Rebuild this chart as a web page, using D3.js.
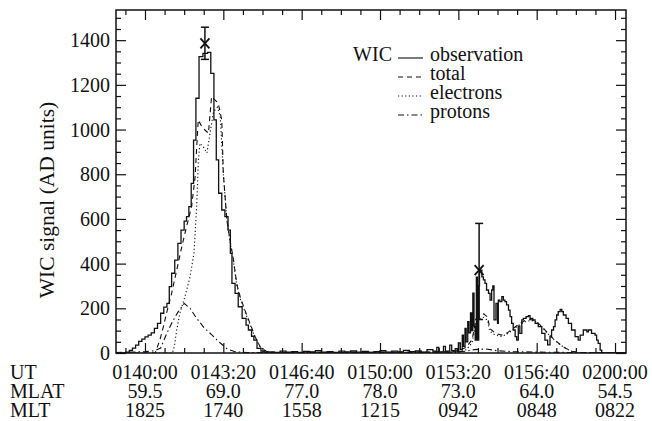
<!DOCTYPE html>
<html><head><meta charset="utf-8">
<script src="https://cdn.jsdelivr.net/npm/d3@7"></script>
<style>
body{margin:0;background:#fff}
svg{display:block}
text{font-family:"Liberation Serif","DejaVu Serif",serif;fill:#111}
</style>
</head><body>
<svg id="c" width="652" height="421"></svg>
<script>
// ---------------- data ----------------
// time = seconds after 01:40:00 UT
const utTicks = [0, 200, 400, 600, 800, 1000, 1200];
const utLabels = ["0140:00", "0143:20", "0146:40", "0150:00", "0153:20", "0156:40", "0200:00"];
const mlatLabels = ["59.5", "69.0", "77.0", "78.0", "73.0", "64.0", "54.5"];
const mltLabels = ["1825", "1740", "1558", "1215", "0942", "0848", "0822"];
const yTicks = [0, 200, 400, 600, 800, 1000, 1200, 1400];
const rowLabels = ["UT", "MLAT", "MLT"];

const observation = [
  [-74,0],[-48,4],[-40,12],[-32,22],[-24,35],[-16,52],[-8,62],[0,72],[8,80],[16,90],[24,110],[32,133],
  [40,178],[48,205],[56,222],[62,297],[68,357],[76,416],[84,491],[92,550],[100,590],[106,610],[112,655],
  [118,759],[124,953],[130,1140],[138,1326],[148,1341],[160,1345],[168,1251],[176,1043],[182,864],[188,715],
  [196,640],[204,610],[212,550],[218,446],[222,312],[230,267],[238,207],[248,155],[258,125],[264,103],
  [272,75],[278,58],[286,21],[296,8],[306,2],[316,5],[330,3],[345,8],[360,4],[375,6],[390,2],[405,7],
  [420,5],[435,10],[450,4],[465,6],[480,3],[495,8],[510,5],[525,9],[540,4],[555,7],[570,3],[585,6],
  [600,10],[615,4],[630,8],[645,5],[660,12],[675,6],[690,9],[705,4],[720,15],[735,8],[745,25],[750,5],
  [762,30],[767,8],[778,35],[783,10],[792,20],[797,6],[800,45],[805,15],[810,80],[813,30],[817,110],
  [820,50],[824,140],[827,90],[831,180],[834,100],[837,268],[840,120],[843,58],[846,340],[849,58],
  [852,300],[854,371],[860,341],[864,327],[868,312],[872,282],[877,267],[881,237],[885,282],[888,300],
  [891,148],[896,222],[900,133],[902,237],[906,230],[911,252],[915,237],[919,230],[923,215],[928,192],
  [932,163],[936,133],[940,103],[945,73],[949,58],[953,120],[957,88],[962,148],[966,155],[973,163],
  [979,167],[983,155],[990,148],[996,133],[1004,118],[1013,88],[1021,58],[1028,36],[1034,73],[1038,103],
  [1043,118],[1047,148],[1051,170],[1055,185],[1060,195],[1064,185],[1068,170],[1075,155],[1081,133],
  [1089,103],[1098,73],[1106,58],[1111,80],[1119,103],[1128,95],[1132,103],[1140,88],[1149,80],
  [1153,58],[1157,43],[1162,13],[1166,0],[1228,0]
];
const total = [
  [-74,0],[26,0],[38,58],[47,118],[55,178],[68,267],[81,371],[94,476],[106,565],[119,655],[128,789],
  [132,923],[136,1043],[145,1013],[153,998],[162,984],[170,1147],[179,1132],[187,1118],[196,1043],
  [200,804],[209,595],[217,506],[226,416],[234,312],[243,252],[255,192],[268,133],[281,73],[294,28],
  [311,6],[330,2],[400,3],[500,2],[600,3],[700,4],[780,6],[800,10],[820,25],[835,60],[845,150],
  [855,170],[865,175],[875,160],[880,110],[890,95],[900,85],[910,80],[925,90],[940,110],[955,130],
  [970,145],[985,150],[1000,140],[1015,115],[1030,85],[1045,60],[1060,38],[1075,20],[1090,8],[1110,2],[1228,0]
];
const electrons = [
  [-74,0],[70,0],[75,30],[81,103],[89,178],[102,252],[115,341],[125,446],[132,655],[136,849],[140,938],
  [149,923],[158,895],[166,983],[175,1080],[185,1100],[192,1060],[200,800],[209,595],[217,500],[226,410],
  [234,305],[243,245],[255,185],[268,128],[281,70],[294,27],[311,5],[330,0],[800,3],[820,15],[835,45],
  [845,135],[855,155],[865,160],[875,145],[880,98],[890,85],[900,78],[910,74],[925,85],[940,105],
  [955,125],[970,140],[985,146],[1000,137],[1015,113],[1030,83],[1045,58],[1060,37],[1075,19],[1090,7],
  [1110,1],[1228,0]
];
const protons = [
  [-74,2],[-40,4],[0,6],[25,10],[40,22],[55,85],[70,140],[85,185],[100,222],[115,200],[130,160],
  [150,115],[170,82],[190,48],[210,18],[230,6],[260,2],[400,2],[600,3],[780,4],[820,8],[840,15],
  [870,18],[900,10],[940,6],[1000,4],[1100,2],[1228,0]
];
const peakMarks = [
  {t:153, v:1386, lo:1314, hi:1458},
  {t:853, v:371, lo:150, hi:580}
];
const legendNames = ["observation", "total", "electrons", "protons"];

// ---------------- layout ----------------
const svg = d3.select("#c");
svg.append("rect").attr("width",652).attr("height",421).attr("fill","#fff");
const L = 116, R = 626, T = 10, B = 353;
const x = d3.scaleLinear().domain([-74, 1228]).range([L, R]);
const y = d3.scaleLinear().domain([0, 1535]).range([B, T]);
const FS = 20;

const minorX = d3.range(-50, 1228, 50).filter(v => v % 200 !== 0);
const minorY = d3.range(50, 1535, 50).filter(v => v % 200 !== 0);

function axes(gen, tr, vals, len){
  const g = svg.append("g").attr("transform", tr)
    .call(gen.tickValues(vals).tickSize(-len).tickFormat(""));
  g.select(".domain").remove();
  g.selectAll("line").attr("stroke","#111").attr("stroke-width",1.2);
}
axes(d3.axisBottom(x), `translate(0,${B})`, utTicks, 10);
axes(d3.axisBottom(x), `translate(0,${B})`, minorX, 5);
axes(d3.axisTop(x), `translate(0,${T})`, utTicks, 10);
axes(d3.axisTop(x), `translate(0,${T})`, minorX, 5);
axes(d3.axisLeft(y), `translate(${L},0)`, yTicks, 10);
axes(d3.axisLeft(y), `translate(${L},0)`, minorY, 5);
axes(d3.axisRight(y), `translate(${R},0)`, yTicks, 10);
axes(d3.axisRight(y), `translate(${R},0)`, minorY, 5);

svg.append("rect").attr("x",L).attr("y",T).attr("width",R-L).attr("height",B-T)
  .attr("fill","none").attr("stroke","#111").attr("stroke-width",1.5);

// y tick labels
svg.append("g").selectAll("text").data(yTicks).join("text")
  .attr("x", L-6).attr("y", d => y(d)+7).attr("text-anchor","end")
  .attr("font-size",FS).text(d => d);

// y title
svg.append("text").attr("transform",`translate(54,200) rotate(-90)`)
  .attr("text-anchor","middle").attr("font-size",21.5).text("WIC signal (AD units)");

// bottom label rows
const rows = [utLabels, mlatLabels, mltLabels];
const rowY = [379, 398, 417];
rows.forEach((labs, i) => {
  svg.append("text").attr("x",10).attr("y",rowY[i]).attr("font-size",FS).text(rowLabels[i]);
  svg.append("g").selectAll("text").data(utTicks).join("text")
    .attr("x", d => x(d)).attr("y", rowY[i]).attr("text-anchor","middle")
    .attr("font-size",FS).text((d,j) => labs[j]);
});

// curves
svg.append("clipPath").attr("id","cp").append("rect")
  .attr("x",L).attr("y",T).attr("width",R-L).attr("height",B-T);
const plot = svg.append("g").attr("clip-path","url(#cp)");
const lineLin = d3.line().x(d => x(d[0])).y(d => y(d[1]));
const lineStep = d3.line().x(d => x(d[0])).y(d => y(d[1])).curve(d3.curveStepAfter);
const styles = [
  {data: observation, gen: lineStep, dash: null, w: 1.3},
  {data: total, gen: lineLin, dash: "5,4", w: 1.1},
  {data: electrons, gen: lineLin, dash: "1.2,2.4", w: 1.1},
  {data: protons, gen: lineLin, dash: "6,3,1.5,3", w: 1.1}
];
styles.slice().reverse().forEach(s => {
  plot.append("path").attr("d", s.gen(s.data)).attr("fill","none")
    .attr("stroke","#111").attr("stroke-width",s.w)
    .attr("stroke-dasharray", s.dash);
});

// peak markers with error bars
peakMarks.forEach(p => {
  const px = x(p.t), py = y(p.v);
  const g = svg.append("g").attr("stroke","#111").attr("stroke-width",1.5);
  g.append("line").attr("x1",px).attr("x2",px).attr("y1",y(p.hi)).attr("y2",y(p.lo));
  g.append("line").attr("x1",px-4).attr("x2",px+4).attr("y1",y(p.hi)).attr("y2",y(p.hi));
  g.append("line").attr("x1",px-4).attr("x2",px+4).attr("y1",y(p.lo)).attr("y2",y(p.lo));
  g.append("line").attr("x1",px-4.5).attr("x2",px+4.5).attr("y1",py-5).attr("y2",py+5).attr("stroke-width",1.8);
  g.append("line").attr("x1",px-4.5).attr("x2",px+4.5).attr("y1",py+5).attr("y2",py-5).attr("stroke-width",1.8);
});

// legend
const lgBase = [61, 80, 99, 118];
svg.append("text").attr("x",392).attr("y",lgBase[0]).attr("text-anchor","end")
  .attr("font-size",FS).text("WIC");
legendNames.forEach((n, i) => {
  svg.append("line").attr("x1",398).attr("x2",423).attr("y1",lgBase[i]-3).attr("y2",lgBase[i]-3)
    .attr("stroke","#111").attr("stroke-width",1.1).attr("stroke-dasharray", styles[i].dash);
  svg.append("text").attr("x",430).attr("y",lgBase[i]).attr("font-size",FS).text(n);
});
</script>
</body></html>
